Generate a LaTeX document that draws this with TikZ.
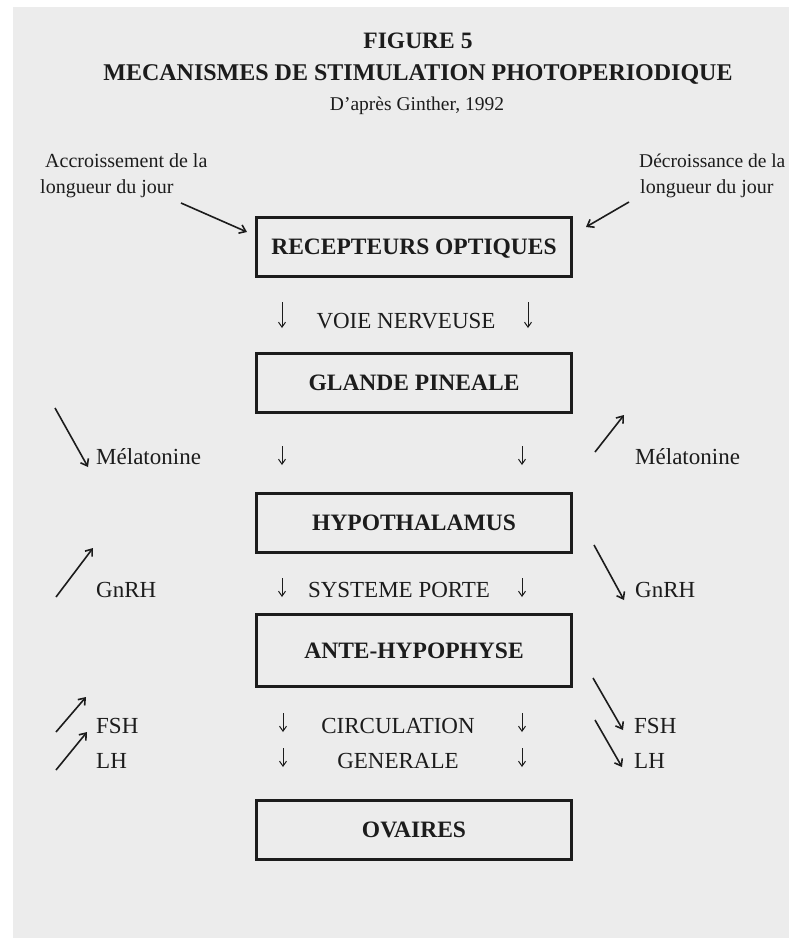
\documentclass[tikz,border=0pt]{standalone}
\usepackage{fontspec}
\setmainfont{Liberation Serif}
\usetikzlibrary{arrows.meta}
\definecolor{page}{RGB}{236,236,236}
\definecolor{ink}{RGB}{28,28,28}
\begin{document}
\begin{tikzpicture}[x=1pt,y=-1pt,
  box/.style={draw=ink, line width=2.8pt, minimum width=315pt, minimum height=59pt,
    inner sep=0pt, font=\fontsize{23.5}{28}\selectfont\bfseries, text height=15.5pt,
    text depth=0pt, text=ink},
  ttl/.style={font=\fontsize{23.5}{28}\selectfont\bfseries, text=ink, inner sep=0pt, anchor=base},
  lbl/.style={font=\fontsize{23}{27}\selectfont, text=ink, inner sep=0pt, anchor=base},
  side/.style={lbl, anchor=base west},
  small/.style={font=\fontsize{20}{24}\selectfont, text=ink, inner sep=0pt, anchor=base west},
  diag/.style={draw=ink, line width=1.6pt, -{Straight Barb[length=6pt,width=9pt]}},
  down/.style={draw=ink, line width=1pt, -{Straight Barb[length=5pt,width=7pt]}}]
\fill[white] (0,0) rectangle (789,938);
\fill[page] (13,7) rectangle (789,938);
\useasboundingbox (0,0) rectangle (789,938);

% title
\node[ttl] (t1) at (418,48) {FIGURE 5};
\node[ttl, font=\fontsize{24}{28}\selectfont\bfseries] (t2) at (418,80) {MECANISMES DE STIMULATION PHOTOPERIODIQUE};
\node[lbl, font=\fontsize{19.5}{24}\selectfont] (t3) at (417,110) {D’après Ginther, 1992};

% boxes
\node[box] (rec) at (414,247) {RECEPTEURS OPTIQUES};
\node[box] (pin) at (414,383) {GLANDE PINEALE};
\node[box] (hyp) at (414,523) {HYPOTHALAMUS};
\node[box, minimum height=72pt] (ante) at (414,650.5) {ANTE-HYPOPHYSE};
\node[box] (ova) at (414,830) {OVAIRES};

% day length labels
\node[small] (acc1) at (45,167) {Accroissement de la};
\node[small] (acc2) at (40,193) {longueur du jour};
\node[small, font=\fontsize{19.5}{24}\selectfont] (dec1) at (639,167) {Décroissance de la};
\node[small] (dec2) at (640,193) {longueur du jour};
\coordinate (aL1) at (181,203); \coordinate (aL2) at (247,232);
\coordinate (aR1) at (629,202); \coordinate (aR2) at (586,227);
\draw[diag] (aL1) -- (aL2);
\draw[diag] (aR1) -- (aR2);

% voie nerveuse
\node[lbl] (voie) at (406,328) {VOIE NERVEUSE};
\coordinate (v1a) at (282,302); \coordinate (v1b) at (282,328);
\coordinate (v2a) at (528,302); \coordinate (v2b) at (528,328);
\draw[down] (v1a) -- (v1b);
\draw[down] (v2a) -- (v2b);

% melatonine
\node[side] (mel1) at (96,464) {Mélatonine};
\node[side] (mel2) at (635,464) {Mélatonine};
\coordinate (m1a) at (55,408); \coordinate (m1b) at (88,467);
\coordinate (m2a) at (595,452); \coordinate (m2b) at (624,415);
\draw[diag] (m1a) -- (m1b);
\draw[diag] (m2a) -- (m2b);
\coordinate (md1a) at (282,446); \coordinate (md1b) at (282,465);
\coordinate (md2a) at (522,446); \coordinate (md2b) at (522,465);
\draw[down] (md1a) -- (md1b);
\draw[down] (md2a) -- (md2b);

% GnRH / systeme porte
\node[side] (gn1) at (96,597) {GnRH};
\node[lbl] (sys) at (399,597) {SYSTEME PORTE};
\node[side] (gn2) at (635,597) {GnRH};
\coordinate (g1a) at (56,597); \coordinate (g1b) at (93,548);
\coordinate (g2a) at (594,545); \coordinate (g2b) at (624,600);
\draw[diag] (g1a) -- (g1b);
\draw[diag] (g2a) -- (g2b);
\coordinate (sd1a) at (282,578); \coordinate (sd1b) at (282,597);
\coordinate (sd2a) at (522,578); \coordinate (sd2b) at (522,597);
\draw[down] (sd1a) -- (sd1b);
\draw[down] (sd2a) -- (sd2b);

% FSH / LH / circulation generale
\node[side] (fsh1) at (96,733) {FSH};
\node[side] (lh1) at (96,768) {LH};
\node[lbl] (circ) at (398,733) {CIRCULATION};
\node[lbl] (gen) at (398,768) {GENERALE};
\node[side] (fsh2) at (634,733) {FSH};
\node[side] (lh2) at (634,768) {LH};
\coordinate (f1a) at (56,732); \coordinate (f1b) at (86,697);
\coordinate (l1a) at (56,770); \coordinate (l1b) at (87,732);
\coordinate (f2a) at (593,678); \coordinate (f2b) at (623,730);
\coordinate (l2a) at (595,720); \coordinate (l2b) at (622,767);
\draw[diag] (f1a) -- (f1b);
\draw[diag] (l1a) -- (l1b);
\draw[diag] (f2a) -- (f2b);
\draw[diag] (l2a) -- (l2b);
\coordinate (cd1a) at (283,713); \coordinate (cd1b) at (283,732);
\coordinate (cd2a) at (522,713); \coordinate (cd2b) at (522,732);
\coordinate (ge1a) at (283,748); \coordinate (ge1b) at (283,767);
\coordinate (ge2a) at (522,748); \coordinate (ge2b) at (522,767);
\draw[down] (cd1a) -- (cd1b);
\draw[down] (cd2a) -- (cd2b);
\draw[down] (ge1a) -- (ge1b);
\draw[down] (ge2a) -- (ge2b);
\end{tikzpicture}
\end{document}
